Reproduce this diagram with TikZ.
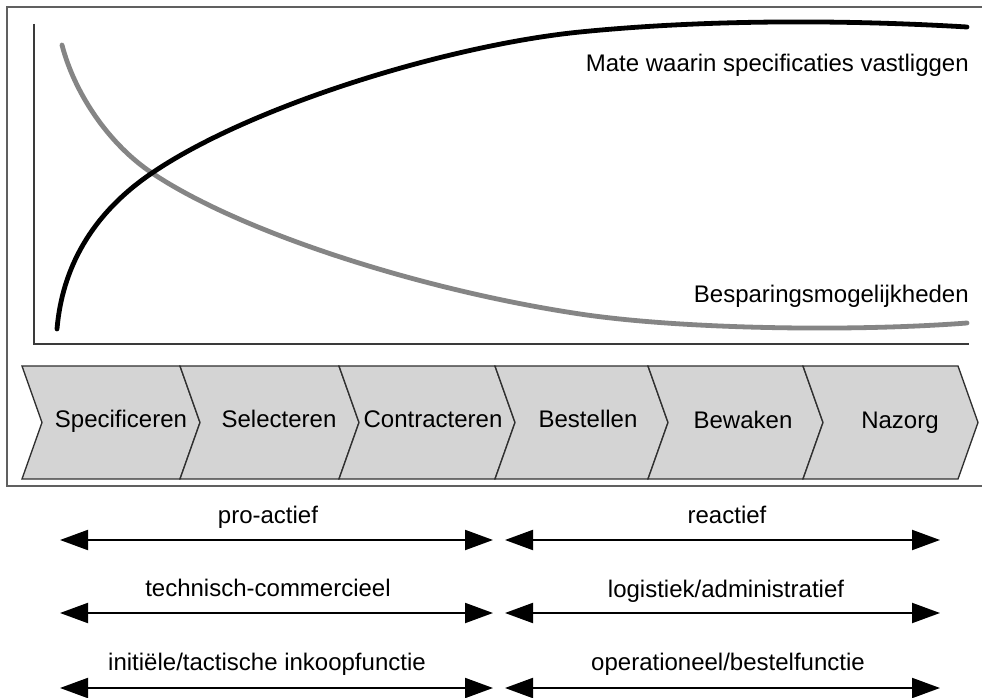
\documentclass[tikz,border=0pt]{standalone}
\usepackage{fontspec}
\setmainfont{Liberation Sans}
\usetikzlibrary{arrows.meta}
\definecolor{framegray}{HTML}{606060}
\definecolor{axisgray}{HTML}{3A3A3A}
\definecolor{curvegray}{HTML}{858585}
\definecolor{chevfill}{HTML}{D4D4D4}
\definecolor{chevline}{HTML}{303030}
\tikzset{
  frameline/.style={draw=framegray, line width=1.9pt},
  axisline/.style={draw=axisgray, line width=1.4pt},
  curveline/.style={line width=3.6pt, line cap=round, line join=round},
  chevron/.style={fill=chevfill, draw=chevline, line width=1pt, line join=miter},
  phase/.style={anchor=base, inner sep=0pt, font=\fontsize{18}{21}\selectfont},
  curvelabel/.style={anchor=base east, inner sep=0pt, font=\fontsize{18}{21}\selectfont},
  rolelabel/.style={anchor=base, inner sep=0pt, font=\fontsize{18}{21}\selectfont},
  span/.style={line width=1.5pt, {Triangle[length=21pt,width=15pt]}-{Triangle[length=21pt,width=15pt]}},
}
\begin{document}
\begin{tikzpicture}[x=0.75pt, y=-0.75pt]
\useasboundingbox (0,0) rectangle (982,698);
\fill[white] (0,0) rectangle (982,698);

% outer frame, running off to the right
\draw[frameline] (990,7) -- (7,7) -- (7,486) -- (990,486);

% axes
\coordinate (ytop) at (34,24);
\coordinate (orig) at (34,344);
\coordinate (xend) at (969,344);
\draw[axisline] (ytop) -- (orig) -- (xend);

% savings curve
\draw[curveline, draw=curvegray]
  (62,45) .. controls (75,95) and (110,145) .. (152,173)
          .. controls (240,232) and (420,290) .. (580,314)
          .. controls (680,329) and (850,332) .. (967,323);
% fixed-specification curve
\draw[curveline, draw=black]
  (57,329) .. controls (62,270) and (90,215) .. (152,173)
           .. controls (252,105) and (450,45) .. (580,32)
           .. controls (710,19) and (850,20) .. (967,27);

\node[curvelabel] (spec) at (969,72) {Mate waarin specificaties vastliggen};
\node[curvelabel] (besp) at (969,303) {Besparingsmogelijkheden};

% process chevrons
\def\ctop{366}\def\cbot{479}\def\cmid{422.5}\def\cdep{20}
\foreach \xa/\xb in {22/180, 180/339, 339/495, 495/648, 648/803, 803/958}{
  \draw[chevron] (\xa,\ctop) -- (\xb,\ctop) -- (\xb+\cdep,\cmid) -- (\xb,\cbot)
     -- (\xa,\cbot) -- (\xa+\cdep,\cmid) -- cycle;
}
\node[phase] (p1) at (121,428) {Specificeren};
\node[phase] (p2) at (279,428) {Selecteren};
\node[phase] (p3) at (433,428) {Contracteren};
\node[phase] (p4) at (588,428) {Bestellen};
\node[phase] (p5) at (743,429) {Bewaken};
\node[phase] (p6) at (900,429) {Nazorg};

% span arrows
\coordinate (l1a) at (60,540);  \coordinate (l1b) at (493,540);
\coordinate (r1a) at (505,540); \coordinate (r1b) at (940,540);
\coordinate (l2a) at (60,613);  \coordinate (l2b) at (493,613);
\coordinate (r2a) at (505,613); \coordinate (r2b) at (940,613);
\coordinate (l3a) at (60,688);  \coordinate (l3b) at (493,688);
\coordinate (r3a) at (505,688); \coordinate (r3b) at (940,688);
\draw[span] (l1a) -- (l1b);
\draw[span] (r1a) -- (r1b);
\draw[span] (l2a) -- (l2b);
\draw[span] (r2a) -- (r2b);
\draw[span] (l3a) -- (l3b);
\draw[span] (r3a) -- (r3b);

\node[rolelabel] (t1) at (268,523) {pro-actief};
\node[rolelabel] (t2) at (727,523) {reactief};
\node[rolelabel] (t3) at (268,596) {technisch-commercieel};
\node[rolelabel] (t4) at (726,597) {logistiek/administratief};
\node[rolelabel] (t5) at (267,670) {initiële/tactische inkoopfunctie};
\node[rolelabel] (t6) at (728,670) {operationeel/bestelfunctie};
\end{tikzpicture}
\end{document}
